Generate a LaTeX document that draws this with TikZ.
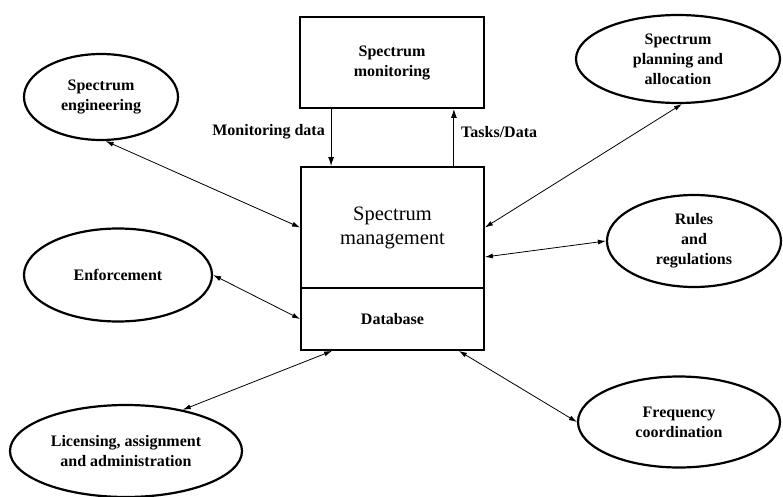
\documentclass[tikz,border=0pt]{standalone}
\usepackage{fontspec}
\setmainfont{Liberation Serif}
\usetikzlibrary{shapes.geometric,arrows.meta}
\begin{document}
\begin{tikzpicture}[x=1pt,y=-1pt,
  lbl/.style={font=\fontsize{16}{20}\selectfont\bfseries, align=center, inner sep=0pt},
  oval/.style={ellipse, draw, line width=2.2pt, inner sep=0pt, lbl},
  boxx/.style={rectangle, draw, line width=1.8pt, inner sep=0pt, align=center},
  link/.style={line width=0.8pt, {Latex[length=8pt,width=5pt]}-{Latex[length=8pt,width=5pt]}},
  flow/.style={line width=1.1pt, -{Latex[length=9pt,width=6pt]}}]
\useasboundingbox (0,0) rectangle (783,497);
\fill[white] (0,0) rectangle (783,497);

% boxes
\node[boxx, lbl, minimum width=184pt, minimum height=91pt] (mon) at (392,62.5) {Spectrum\\monitoring};
\node[boxx, minimum width=183pt, minimum height=121pt, font=\fontsize{20.5}{24}\selectfont] (mgmt) at (392.5,227.5) {Spectrum\\management};
\node[boxx, lbl, minimum width=183pt, minimum height=62pt] (db) at (392.5,319) {Database};

% ellipses
\node[oval, minimum width=154pt, minimum height=86pt] (eng) at (101,97) {Spectrum\\engineering};
\node[oval, minimum width=188pt, minimum height=93pt] (enf) at (118,275) {Enforcement};
\node[oval, minimum width=232pt, minimum height=92pt] (lic) at (126,451) {Licensing, assignment\\and administration};
\node[oval, minimum width=204pt, minimum height=88pt] (plan) at (678,59) {Spectrum\\planning and\\allocation};
\node[oval, minimum width=174pt, minimum height=92pt] (rules) at (694,241) {Rules\\and\\regulations};
\node[oval, minimum width=202pt, minimum height=91pt] (freq) at (679,422) {Frequency\\coordination};

% monitoring flows
\draw[flow] ([xshift=32pt]mon.south west) -- ([xshift=31pt]mgmt.north west);
\draw[flow] ([xshift=-31pt]mgmt.north east) -- ([xshift=-31pt]mon.south east);
\node[lbl, anchor=east] (mdl) at (325,132) {Monitoring data};
\node[lbl, anchor=west] (tdl) at (461,132) {Tasks/Data};

% links
\draw[link] (eng.-84) -- (mgmt.west);
\draw[link] (enf.east) -- (db.west);
\draw[link] (lic.36) -- ([xshift=32pt]db.south west);
\draw[link] ([xshift=-26pt]db.south east) -- (freq.west);
\draw[link] (plan.-85) -- (mgmt.east);
\draw[link] ([yshift=-29.5pt]mgmt.east) -- (rules.west);
\end{tikzpicture}
\end{document}
